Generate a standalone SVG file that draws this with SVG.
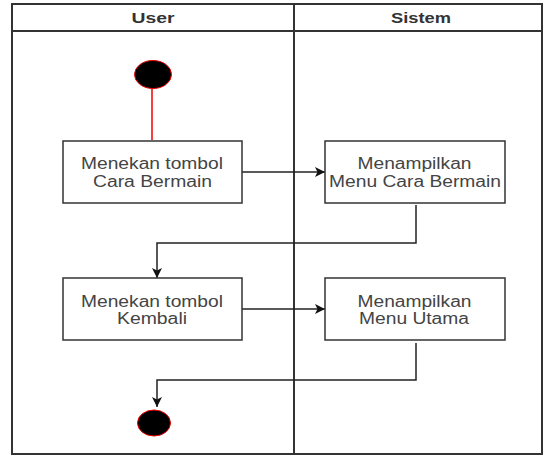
<svg xmlns="http://www.w3.org/2000/svg" width="546" height="456" viewBox="0 0 546 456">
<style>
.frame{fill:none;stroke:#333;stroke-width:2}
.box{fill:#fff;stroke:#333;stroke-width:1.5}
.lbl{font-family:"Liberation Sans",Arial,sans-serif;font-size:16px;fill:#444;text-anchor:middle}
.hdr{font-family:"Liberation Sans",Arial,sans-serif;font-size:15px;font-weight:bold;fill:#333;text-anchor:middle}
.conn{fill:none;stroke:#222;stroke-width:1.5}
</style>
<defs>
<marker id="arr" viewBox="0 0 10 10" refX="10" refY="5" markerWidth="10" markerHeight="10" markerUnits="userSpaceOnUse" orient="auto">
<path d="M0,0 L10,5 L0,10 L2.5,5 Z" fill="#111"/>
</marker>
</defs>
<rect width="546" height="456" fill="#fff"/>
<g id="swimlanes">
<rect class="frame" x="12" y="4" width="530" height="450"/>
<line class="frame" x1="12" y1="31" x2="542" y2="31"/>
<line class="frame" x1="294" y1="4" x2="294" y2="454"/>
<text class="hdr" x="153" y="23" textLength="43" lengthAdjust="spacingAndGlyphs">User</text>
<text class="hdr" x="421" y="23" textLength="60" lengthAdjust="spacingAndGlyphs">Sistem</text>
</g>
<g id="connectors">
<line x1="152" y1="89" x2="152" y2="140" stroke="#e00" stroke-width="1.5"/>
<line class="conn" x1="242" y1="172" x2="325" y2="172" marker-end="url(#arr)"/>
<polyline class="conn" points="416,205 416,243 157,243 157,278" marker-end="url(#arr)"/>
<line class="conn" x1="242" y1="309" x2="325" y2="309" marker-end="url(#arr)"/>
<polyline class="conn" points="416,343 416,380 157,380 157,407" marker-end="url(#arr)"/>
</g>
<g id="start">
<ellipse cx="153" cy="74.5" rx="18.5" ry="14" fill="#000" stroke="#e00" stroke-width="1"/>
</g>
<g id="n1">
<rect class="box" x="63" y="141" width="179" height="62"/>
<text class="lbl" x="152" y="169" textLength="142" lengthAdjust="spacingAndGlyphs">Menekan tombol</text>
<text class="lbl" x="152.5" y="187" textLength="119" lengthAdjust="spacingAndGlyphs">Cara Bermain</text>
</g>
<g id="n2">
<rect class="box" x="325" y="141" width="180" height="62"/>
<text class="lbl" x="414.5" y="169" textLength="114" lengthAdjust="spacingAndGlyphs">Menampilkan</text>
<text class="lbl" x="415" y="187" textLength="172" lengthAdjust="spacingAndGlyphs">Menu Cara Bermain</text>
</g>
<g id="n3">
<rect class="box" x="63" y="278" width="179" height="62"/>
<text class="lbl" x="152" y="307" textLength="142" lengthAdjust="spacingAndGlyphs">Menekan tombol</text>
<text class="lbl" x="152" y="324" textLength="70" lengthAdjust="spacingAndGlyphs">Kembali</text>
</g>
<g id="n4">
<rect class="box" x="325" y="278" width="180" height="62"/>
<text class="lbl" x="414.5" y="307" textLength="114" lengthAdjust="spacingAndGlyphs">Menampilkan</text>
<text class="lbl" x="414" y="324" textLength="110" lengthAdjust="spacingAndGlyphs">Menu Utama</text>
</g>
<g id="end">
<ellipse cx="154" cy="423" rx="16.5" ry="13" fill="#000" stroke="#e00" stroke-width="1"/>
</g>
</svg>
